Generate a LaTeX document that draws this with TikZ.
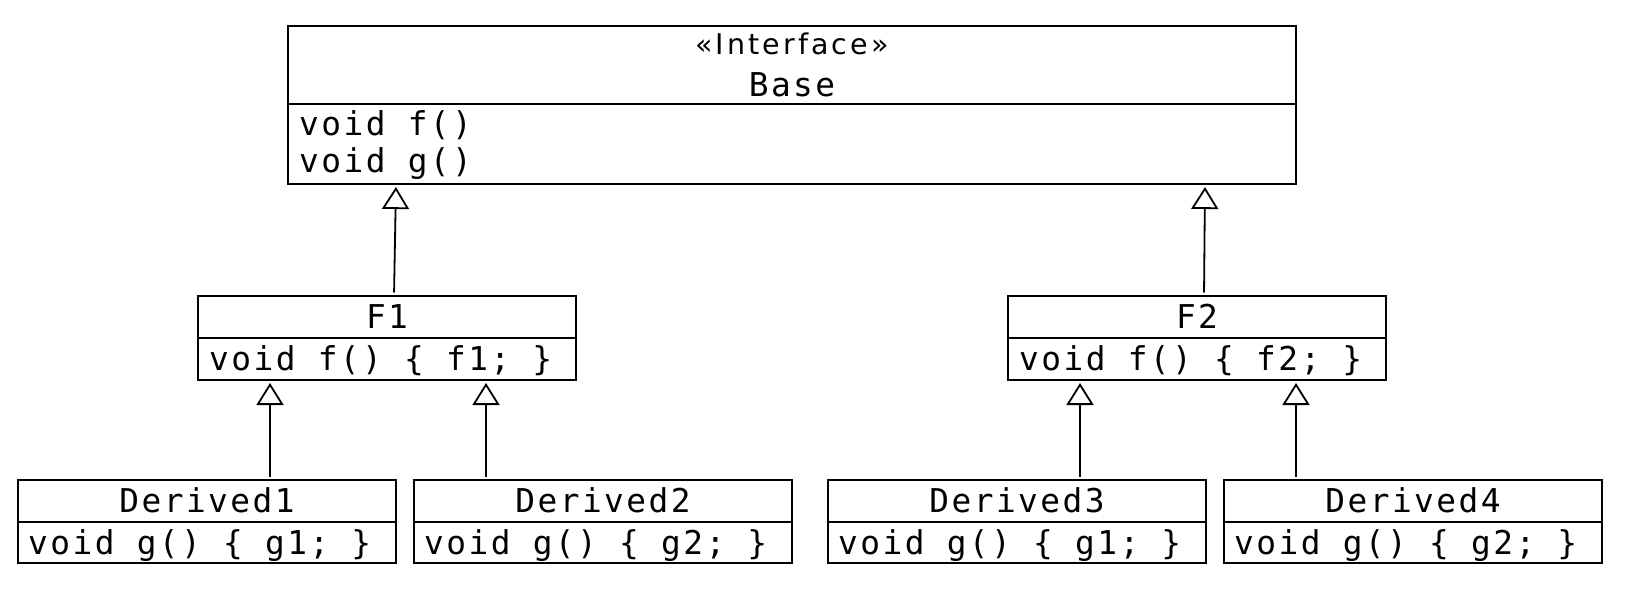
\documentclass[tikz,border=0pt]{standalone}
\usepackage{fontspec}
\newfontfamily\codefont{DejaVu Sans Mono}[LetterSpace=7.5]
\newfontfamily\stereofont{DejaVu Sans}[LetterSpace=11]
\usetikzlibrary{arrows.meta}
\tikzset{
  classbox/.style={draw, line width=2.2pt, inner sep=0pt, outer sep=0pt, anchor=north west, minimum width=378pt},
  sepline/.style={line width=2.2pt},
  code/.style={inner sep=0pt, font=\codefont\fontsize{32.8}{32.8}\selectfont},
  stereo/.style={inner sep=0pt, font=\stereofont\fontsize{28.5}{28.5}\selectfont},
  inh/.style={line width=1.8pt, shorten <=3.5pt, shorten >=3pt,
    -{Triangle[length=22pt, width=27pt, fill=white, line join=miter]}}
}
\begin{document}
\begin{tikzpicture}[x=1pt, y=-1pt]
\useasboundingbox (0,0) rectangle (1632,594);
% Base
\node[classbox, minimum width=1008pt, minimum height=158pt] (Base) at (288,26) {};
\draw[sepline] ([yshift=-78pt]Base.north west) -- ([yshift=-78pt]Base.north east);
\node[stereo, anchor=base] (BaseS) at ([yshift=-28.3pt]Base.north) {«Interface»};
\node[code, anchor=base] (BaseT) at ([yshift=-70pt]Base.north) {Base};
\node[code, anchor=base west] (BaseF) at ([xshift=11pt, yshift=-109pt]Base.north west) {void f()};
\node[code, anchor=base west] (BaseG) at ([xshift=11pt, yshift=-146pt]Base.north west) {void g()};
% F1, F2
\foreach \nm/\xx/\txt/\bd in {F1/198/F1/f1, F2/1008/F2/f2}{
  \node[classbox, minimum height=84pt] (\nm) at (\xx,296) {};
  \draw[sepline] ([yshift=-42pt]\nm.north west) -- ([yshift=-42pt]\nm.north east);
  \node[code, anchor=base] (\nm t) at ([yshift=-32.3pt]\nm.north) {\txt};
  \node[code, anchor=base west] (\nm b) at ([xshift=11pt, yshift=-74pt]\nm.north west) {void f() \{ \bd; \}};
}
% Derived
\foreach \nm/\xx/\bd in {D1/18/g1, D2/414/g2, D3/828/g1, D4/1224/g2}{
  \node[classbox, minimum height=83pt] (\nm) at (\xx,480) {};
  \draw[sepline] ([yshift=-42pt]\nm.north west) -- ([yshift=-42pt]\nm.north east);
  \node[code, anchor=base west] (\nm b) at ([xshift=10pt, yshift=-74.3pt]\nm.north west) {void g() \{ \bd; \}};
}
\node[code, anchor=base] (D1t) at ([yshift=-32.7pt]D1.north) {Derived1};
\node[code, anchor=base] (D2t) at ([yshift=-32.7pt]D2.north) {Derived2};
\node[code, anchor=base] (D3t) at ([yshift=-32.7pt]D3.north) {Derived3};
\node[code, anchor=base] (D4t) at ([yshift=-32.7pt]D4.north) {Derived4};
% inheritance connectors
\draw[inh] ([xshift=196pt]F1.north west) -- ([xshift=108pt]Base.south west);
\draw[inh] ([xshift=196pt]F2.north west) -- ([xshift=917pt]Base.south west);
\draw[inh] ([xshift=252pt]D1.north west) -- ([xshift=72pt]F1.south west);
\draw[inh] ([xshift=72pt]D2.north west) -- ([xshift=288pt]F1.south west);
\draw[inh] ([xshift=252pt]D3.north west) -- ([xshift=72pt]F2.south west);
\draw[inh] ([xshift=72pt]D4.north west) -- ([xshift=288pt]F2.south west);
\end{tikzpicture}
\end{document}
